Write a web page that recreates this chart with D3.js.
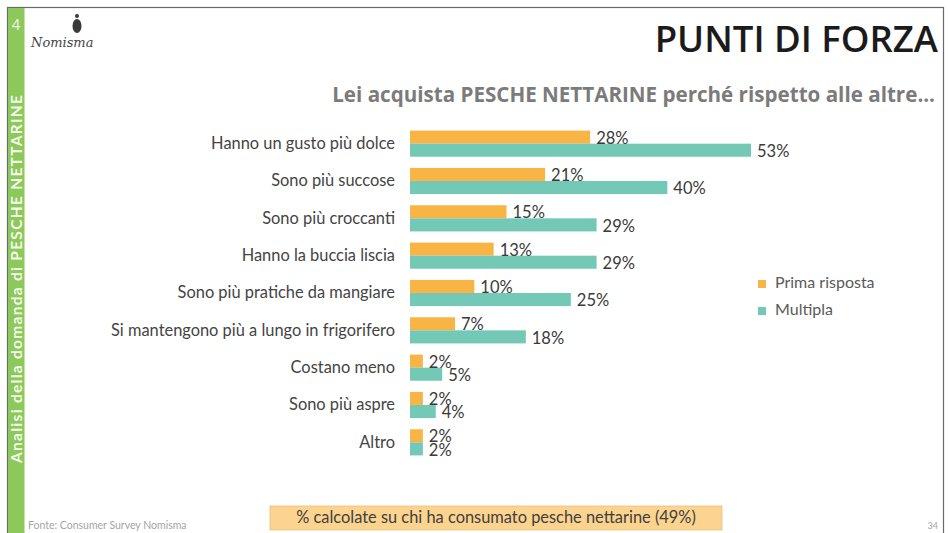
<!DOCTYPE html>
<html>
<head>
<meta charset="utf-8">
<script src="https://cdn.jsdelivr.net/npm/d3@7"></script>
<style>
  html, body { margin: 0; padding: 0; background: #ffffff; }
  svg { display: block; }
</style>
</head>
<body>
<svg id="chart" width="949" height="533"></svg>
<script>
// Survey answers: why nectarines are bought instead of other fruit
const categories = [
  "Hanno un gusto più dolce",
  "Sono più succose",
  "Sono più croccanti",
  "Hanno la buccia liscia",
  "Sono più pratiche da mangiare",
  "Si mantengono più a lungo in frigorifero",
  "Costano meno",
  "Sono più aspre",
  "Altro"
];
const primaRisposta = [28, 21, 15, 13, 10, 7, 2, 2, 2];
const multipla = [53, 40, 29, 29, 25, 18, 5, 4, 2];
const seriesNames = ["Prima risposta", "Multipla"];

const W = 949, H = 533;
const ORANGE = "#f8b444", TEAL = "#73c8b6", GREEN = "#8cc85a";
const svg = d3.select("#chart");

// Slide frame
svg.append("rect").attr("x", 0).attr("y", 0).attr("width", W).attr("height", H).attr("fill", "#fff");
svg.append("rect").attr("x", 7.5).attr("y", 7.5).attr("width", 936).attr("height", 530)
  .attr("fill", "none").attr("stroke", "#6a6a6a").attr("stroke-width", 1.2);

// Green side band with section number and vertical caption
svg.append("rect").attr("x", 8).attr("y", 8).attr("width", 16.5).attr("height", 525).attr("fill", GREEN);
svg.append("text").attr("x", 16).attr("y", 30).attr("text-anchor", "middle")
  .attr("font-family", "Lato, sans-serif").attr("font-size", 15).attr("fill", "#eef7e4").text("4");
svg.append("text")
  .attr("transform", "translate(21.5,279) rotate(-90)")
  .attr("text-anchor", "middle")
  .attr("font-family", "Lato, sans-serif").attr("font-size", 15.5).attr("font-weight", 700)
  .attr("fill", "#f4fbec")
  .attr("textLength", 368).attr("lengthAdjust", "spacing")
  .text("Analisi della domanda di PESCHE NETTARINE");

// Company mark
const logo = svg.append("g");
logo.append("ellipse").attr("cx", 77).attr("cy", 26).attr("rx", 4.5).attr("ry", 7).attr("fill", "#3a3a3a");
logo.append("circle").attr("cx", 77).attr("cy", 16).attr("r", 2).attr("fill", "#3a3a3a");
logo.append("text").attr("x", 31).attr("y", 47)
  .attr("font-family", "'DejaVu Serif', serif").attr("font-style", "italic").attr("font-size", 13)
  .attr("fill", "#444").text("Nomisma");

// Titles
svg.append("text").attr("x", 938).attr("y", 52).attr("text-anchor", "end")
  .attr("font-family", "'Open Sans', sans-serif").attr("font-weight", 600).attr("font-size", 36.5)
  .attr("fill", "#1b1b1b").text("PUNTI DI FORZA");
svg.append("text").attr("x", 935).attr("y", 102).attr("text-anchor", "end")
  .attr("font-family", "'Open Sans', sans-serif").attr("font-weight", 700).attr("font-size", 20.6)
  .attr("fill", "#7b7b7b").text("Lei acquista PESCHE NETTARINE perché rispetto alle altre...");

// Scales
const x = d3.scaleLinear().domain([0, 53]).range([410, 751]);
const y = d3.scaleBand().domain(categories).range([125, 461]).paddingInner(0.3).paddingOuter(0.15);
const sub = d3.scaleBand().domain(seriesNames).range([0, y.bandwidth()]);

const rows = categories.map((c, i) => ({ c, vals: [primaRisposta[i], multipla[i]] }));
const colors = d3.scaleOrdinal().domain(seriesNames).range([ORANGE, TEAL]);

// Category axis (labels only)
const yAxis = d3.axisLeft(y).tickSize(0).tickPadding(15);
const gy = svg.append("g").attr("transform", "translate(410,0)").call(yAxis);
gy.select(".domain").remove();
gy.selectAll("text").attr("font-family", "Lato, sans-serif").attr("font-size", 16.4).attr("fill", "#444");

// Bars and value labels
const rowG = svg.append("g").selectAll("g").data(rows).join("g")
  .attr("transform", d => `translate(0,${y(d.c)})`);
rowG.selectAll("rect").data(d => d.vals.map((v, k) => ({ v, s: seriesNames[k] }))).join("rect")
  .attr("x", x(0)).attr("y", d => sub(d.s))
  .attr("width", d => x(d.v) - x(0)).attr("height", sub.bandwidth())
  .attr("fill", d => colors(d.s));
rowG.selectAll("text").data(d => d.vals.map((v, k) => ({ v, s: seriesNames[k] }))).join("text")
  .attr("x", d => x(d.v) + 6)
  .attr("y", d => sub(d.s) + sub.bandwidth() / 2 + 2.5)
  .attr("dominant-baseline", "middle")
  .attr("font-family", "Lato, sans-serif").attr("font-size", 16.5).attr("fill", "#3a3a3a")
  .text(d => d.v + "%");

// Legend
const leg = svg.append("g").attr("transform", "translate(758,284)");
seriesNames.forEach((s, i) => {
  leg.append("rect").attr("x", 0).attr("y", i * 27 - 4).attr("width", 8).attr("height", 8).attr("fill", colors(s));
  leg.append("text").attr("x", 17).attr("y", i * 27).attr("dominant-baseline", "middle")
    .attr("font-family", "Lato, sans-serif").attr("font-size", 16).attr("fill", "#5a5a5a").text(s);
});

// Footnote box
svg.append("rect").attr("x", 270).attr("y", 506).attr("width", 452).attr("height", 24)
  .attr("fill", "#fcd48f").attr("stroke", "#e9c07a").attr("stroke-width", 0.8);
svg.append("text").attr("x", 496).attr("y", 519).attr("text-anchor", "middle").attr("dominant-baseline", "middle")
  .attr("font-family", "Lato, sans-serif").attr("font-size", 16.4).attr("fill", "#3f3f3f")
  .text("% calcolate su chi ha consumato pesche nettarine (49%)");

// Source and page number
svg.append("text").attr("x", 28).attr("y", 529)
  .attr("font-family", "Lato, sans-serif").attr("font-size", 10.5).attr("fill", "#a5a5a5")
  .text("Fonte: Consumer Survey Nomisma");
svg.append("text").attr("x", 938).attr("y", 529).attr("text-anchor", "end")
  .attr("font-family", "Lato, sans-serif").attr("font-size", 9).attr("fill", "#a5a5a5").text("34");
</script>
</body>
</html>
